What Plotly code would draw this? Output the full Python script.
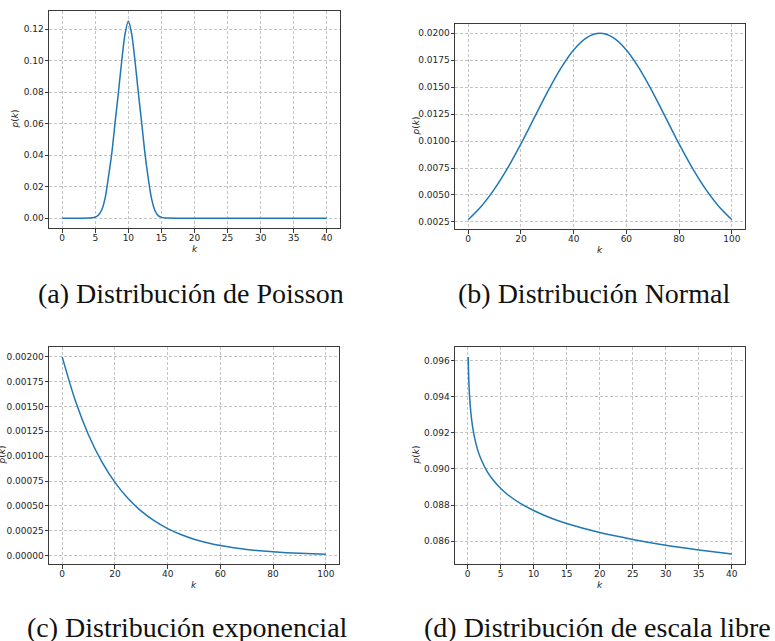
import plotly.graph_objects as go

# --- (a) Poisson-like peaked distribution ---
poisson_k = [0, 1, 2, 3, 4, 4.5, 5, 5.5, 6, 6.5, 7, 7.5, 8, 8.5, 9, 9.5, 10,
             10.5, 11, 11.5, 12, 12.5, 13, 13.5, 14, 14.5, 15, 15.5, 16, 18,
             20, 25, 30, 35, 40]
poisson_p = [0.0, 0.0, 0.0, 0.0, 0.00005, 0.0002, 0.0007, 0.0020, 0.0055,
             0.0130, 0.0265, 0.0415, 0.0610, 0.0800, 0.1000, 0.1170, 0.1253,
             0.1170, 0.1000, 0.0800, 0.0610, 0.0415, 0.0255, 0.0125, 0.0050,
             0.0016, 0.0005, 0.0001, 0.00002, 0.0, 0.0, 0.0, 0.0, 0.0, 0.0]

# --- (b) Normal distribution ---
normal_k = [0, 5, 10, 15, 20, 25, 30, 35, 40, 45, 50, 55, 60, 65, 70, 75,
            80, 85, 90, 95, 100]
normal_p = [0.002707, 0.003958, 0.005560, 0.007506, 0.009735, 0.012131,
            0.014522, 0.016705, 0.018462, 0.019604, 0.020000, 0.019604,
            0.018462, 0.016705, 0.014522, 0.012131, 0.009735, 0.007506,
            0.005560, 0.003958, 0.002707]

# --- (c) Exponential distribution ---
expo_k = [0, 5, 10, 15, 20, 25, 30, 35, 40, 45, 50, 55, 60, 65, 70, 75, 80,
          85, 90, 95, 100]
expo_p = [0.0020000, 0.0015576, 0.0012131, 0.0009447, 0.0007358, 0.0005730,
          0.0004463, 0.0003476, 0.0002707, 0.0002108, 0.0001642, 0.0001279,
          0.0000996, 0.0000776, 0.0000604, 0.0000470, 0.0000366, 0.0000285,
          0.0000222, 0.0000173, 0.0000135]

# --- (d) Scale-free distribution ---
free_k = [0.1, 0.2, 0.3, 0.5, 0.75, 1, 1.5, 2, 3, 4, 5, 6, 8, 10, 12.5, 15,
          20, 25, 30, 35, 40]
free_p = [0.09620, 0.09487, 0.09410, 0.09314, 0.09238, 0.09185, 0.09110,
          0.09058, 0.08984, 0.08933, 0.08893, 0.08860, 0.08809, 0.08770,
          0.08730, 0.08698, 0.08648, 0.08610, 0.08578, 0.08552, 0.08529]

captions = ["(a) Distribución de Poisson", "(b) Distribución Normal",
            "(c) Distribución exponencial", "(d) Distribución de escala libre"]

W, H = 775, 641
BLUE = "#1f77b4"
AXC = "#3a3a3a"
TICKFONT = dict(family="DejaVu Sans", size=9, color="#262626")
LABELFONT = dict(family="DejaVu Sans", size=9, color="#262626")


def px_x(v):
    return v / W


def px_y(v):
    return 1 - v / H


# plot-area boxes in pixels: (left, right, top, bottom)
boxes = [(49, 340, 11, 228), (455, 745, 24, 229),
         (49, 339, 347, 564), (455, 745, 347, 564)]

panels = [
    (poisson_k, poisson_p, [-2, 42], [-0.00627, 0.1316],
     dict(tickvals=[0, 5, 10, 15, 20, 25, 30, 35, 40]),
     dict(tickvals=[0, 0.02, 0.04, 0.06, 0.08, 0.10, 0.12],
          ticktext=["0.00", "0.02", "0.04", "0.06", "0.08", "0.10", "0.12"])),
    (normal_k, normal_p, [-5, 105], [0.001842, 0.020865],
     dict(tickvals=[0, 20, 40, 60, 80, 100]),
     dict(tickvals=[0.0025, 0.005, 0.0075, 0.01, 0.0125, 0.015, 0.0175, 0.02],
          ticktext=["0.0025", "0.0050", "0.0075", "0.0100", "0.0125",
                    "0.0150", "0.0175", "0.0200"])),
    (expo_k, expo_p, [-5, 105], [-0.0000858, 0.0020993],
     dict(tickvals=[0, 20, 40, 60, 80, 100]),
     dict(tickvals=[0, 0.00025, 0.0005, 0.00075, 0.001, 0.00125, 0.0015,
                    0.00175, 0.002],
          ticktext=["0.00000", "0.00025", "0.00050", "0.00075", "0.00100",
                    "0.00125", "0.00150", "0.00175", "0.00200"])),
    (free_k, free_p, [-1.895, 41.995], [0.08474, 0.09675],
     dict(tickvals=[0, 5, 10, 15, 20, 25, 30, 35, 40]),
     dict(tickvals=[0.086, 0.088, 0.090, 0.092, 0.094, 0.096],
          ticktext=["0.086", "0.088", "0.090", "0.092", "0.094", "0.096"])),
]

fig = go.Figure()
layout = dict(
    width=W, height=H, margin=dict(l=0, r=0, t=0, b=0),
    paper_bgcolor="white", plot_bgcolor="white", showlegend=False,
)
annotations = []

for i, (xs, ys, xr, yr, xt, yt) in enumerate(panels):
    n = "" if i == 0 else str(i + 1)
    left, right, top, bottom = boxes[i]
    fig.add_trace(go.Scatter(
        x=xs, y=ys, mode="lines", xaxis="x" + n, yaxis="y" + n,
        line=dict(color=BLUE, width=1.5, shape="spline", smoothing=0.8),
        hoverinfo="skip"))
    common = dict(
        showline=True, linecolor=AXC, linewidth=1, mirror=True,
        ticks="outside", ticklen=3.5, tickwidth=0.8, tickcolor=AXC,
        showgrid=True, gridcolor="#c4c4c4", gridwidth=0.8,
        griddash="3px,2px", zeroline=False, tickfont=TICKFONT,
    )
    layout["xaxis" + n] = dict(
        common, domain=[px_x(left), px_x(right)], range=xr,
        anchor="y" + n, ticklabelstandoff=-2, **xt)
    layout["yaxis" + n] = dict(
        common, domain=[px_y(bottom), px_y(top)], range=yr,
        anchor="x" + n, ticklabelstandoff=-1, **yt)

    # axis titles
    cx = (left + right) / 2
    annotations.append(dict(
        x=px_x(cx), y=px_y(bottom + 21), xref="paper", yref="paper",
        text="<i>k</i>", showarrow=False, xanchor="center", yanchor="middle",
        font=LABELFONT))
    ylab_x = {0: 15, 1: 415, 2: 1, 3: 415}[i]
    annotations.append(dict(
        x=px_x(ylab_x), y=px_y((top + bottom) / 2), xref="paper",
        yref="paper", text="<i>p</i>(<i>k</i>)", showarrow=False,
        textangle=-90, xanchor="center", yanchor="middle",
        font=LABELFONT))

# captions under each panel
cap_pos = [(191, 293), (594, 293), (187, 627), (597, 627)]
for text, (cx, cy) in zip(captions, cap_pos):
    annotations.append(dict(
        x=px_x(cx), y=px_y(cy), xref="paper", yref="paper", text=text,
        showarrow=False, xanchor="center", yanchor="middle",
        font=dict(family="Liberation Serif", size=28, color="#111111")))

layout["annotations"] = annotations
fig.update_layout(**layout)
fig.write_html("out.html")
